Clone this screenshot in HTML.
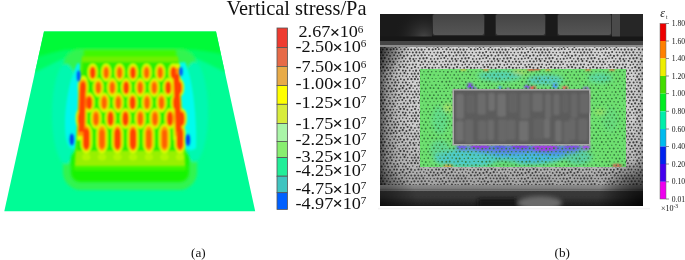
<!DOCTYPE html>
<html><head><meta charset="utf-8"><style>
html,body{margin:0;padding:0;background:#fff;width:685px;height:260px;overflow:hidden}
svg{position:absolute;left:0;top:0;display:block;will-change:transform}
text{font-family:"Liberation Serif",serif;fill:#111}
</style></head><body>
<svg width="685" height="260" viewBox="0 0 685 260">
<defs><filter id="b1" x="-10%" y="-10%" width="120%" height="120%"><feGaussianBlur stdDeviation="0.95"/></filter><filter id="b2" x="-20%" y="-20%" width="140%" height="140%"><feGaussianBlur stdDeviation="1.6"/></filter><filter id="b3" x="-50%" y="-50%" width="200%" height="200%"><feGaussianBlur stdDeviation="2.5"/></filter><clipPath id="pc"><polygon points="44,31.5 216,31.5 255.2,211.3 4.3,211.3"/></clipPath></defs><polygon points="44,31.5 216,31.5 255.2,211.3 4.3,211.3" fill="#00fc96"/><g clip-path="url(#pc)"><g filter="url(#b2)"><path d="M0,20 L260,20 L260,82 C235,80 215,66 195,58 C170,52 90,52 65,58 C45,66 25,80 0,84 Z" fill="#00fc64"/><path d="M0,20 L260,20 L260,60 C235,58 215,52 195,50 C170,49 90,49 65,50 C45,54 25,62 0,66 Z" fill="#02fa38"/><rect x="63" y="49" width="134" height="141" rx="18" fill="#30f450"/><ellipse cx="66" cy="114" rx="14" ry="50" fill="#00f8b0"/><ellipse cx="194" cy="112" rx="14" ry="50" fill="#00f8b0"/></g><g filter="url(#b1)"><path d="M77.5,63 C71,76 65,100 65,126 C65,140 68,149 73,149 C77,149 79,146 79,144 L80,64 Z" fill="#00f6ec"/><path d="M185,62 C193,80 197,118 196,148 C192,152 185,150 182,146 L178.5,63 Z" fill="#00fcee"/></g><g filter="url(#b2)"><rect x="71" y="150" width="118" height="32" rx="9" fill="#12f400"/><path d="M84,50 L176,50 L186,170 L74,170 Z" fill="#40f800"/></g><g filter="url(#b1)"><path d="M82,56.5 L178,56.5 L185,166 L75,166 Z" fill="#70f000"/><path d="M76.2,148 L183.8,148 L184.8,166 L75.2,166 Z" fill="#98f000"/><ellipse cx="86.3" cy="157" rx="4.2" ry="3.6" fill="#b4f600"/><ellipse cx="102" cy="157" rx="4.2" ry="3.6" fill="#b4f600"/><ellipse cx="117.5" cy="157" rx="4.2" ry="3.6" fill="#b4f600"/><ellipse cx="133" cy="157" rx="4.2" ry="3.6" fill="#b4f600"/><ellipse cx="148.8" cy="157" rx="4.2" ry="3.6" fill="#b4f600"/><ellipse cx="164.5" cy="157" rx="4.2" ry="3.6" fill="#b4f600"/><ellipse cx="180" cy="157" rx="4.2" ry="3.6" fill="#b4f600"/><path d="M82.5,62 L177.5,62 L183.5,151 L76.5,151 Z" fill="#2cf000"/><rect x="87.7" y="63.5" width="10" height="18" rx="5" ry="8.5" fill="#dcff00"/><rect x="101.2" y="63.5" width="10" height="18" rx="5" ry="8.5" fill="#dcff00"/><rect x="114.6" y="63.5" width="10" height="18" rx="5" ry="8.5" fill="#dcff00"/><rect x="128" y="63.5" width="10" height="18" rx="5" ry="8.5" fill="#dcff00"/><rect x="141.6" y="63.5" width="10" height="18" rx="5" ry="8.5" fill="#dcff00"/><rect x="155.2" y="63.5" width="10" height="18" rx="5" ry="8.5" fill="#dcff00"/><rect x="168.5" y="63.5" width="10" height="18" rx="5" ry="8.5" fill="#dcff00"/><rect x="77.9" y="78.1" width="10.2" height="18.8" rx="5.1" ry="8.67" fill="#dcff00"/><rect x="93.2" y="78.1" width="10.2" height="18.8" rx="5.1" ry="8.67" fill="#dcff00"/><rect x="107.2" y="78.1" width="10.2" height="18.8" rx="5.1" ry="8.67" fill="#dcff00"/><rect x="121.1" y="78.1" width="10.2" height="18.8" rx="5.1" ry="8.67" fill="#dcff00"/><rect x="135.1" y="78.1" width="10.2" height="18.8" rx="5.1" ry="8.67" fill="#dcff00"/><rect x="149.2" y="78.1" width="10.2" height="18.8" rx="5.1" ry="8.67" fill="#dcff00"/><rect x="163.1" y="78.1" width="10.2" height="18.8" rx="5.1" ry="8.67" fill="#dcff00"/><rect x="173.9" y="78.1" width="10.2" height="18.8" rx="5.1" ry="8.67" fill="#dcff00"/><rect x="84" y="92.7" width="10.4" height="19.6" rx="5.2" ry="8.84" fill="#dcff00"/><rect x="99" y="92.7" width="10.4" height="19.6" rx="5.2" ry="8.84" fill="#dcff00"/><rect x="113.1" y="92.7" width="10.4" height="19.6" rx="5.2" ry="8.84" fill="#dcff00"/><rect x="127.4" y="92.7" width="10.4" height="19.6" rx="5.2" ry="8.84" fill="#dcff00"/><rect x="141.8" y="92.7" width="10.4" height="19.6" rx="5.2" ry="8.84" fill="#dcff00"/><rect x="156.3" y="92.7" width="10.4" height="19.6" rx="5.2" ry="8.84" fill="#dcff00"/><rect x="170.8" y="92.7" width="10.4" height="19.6" rx="5.2" ry="8.84" fill="#dcff00"/><rect x="75.7" y="108.2" width="10.6" height="20.6" rx="5.3" ry="9.01" fill="#dcff00"/><rect x="90.7" y="108.2" width="10.6" height="20.6" rx="5.3" ry="9.01" fill="#dcff00"/><rect x="105.2" y="108.2" width="10.6" height="20.6" rx="5.3" ry="9.01" fill="#dcff00"/><rect x="120.2" y="108.2" width="10.6" height="20.6" rx="5.3" ry="9.01" fill="#dcff00"/><rect x="135" y="108.2" width="10.6" height="20.6" rx="5.3" ry="9.01" fill="#dcff00"/><rect x="149.7" y="108.2" width="10.6" height="20.6" rx="5.3" ry="9.01" fill="#dcff00"/><rect x="164.7" y="108.2" width="10.6" height="20.6" rx="5.3" ry="9.01" fill="#dcff00"/><rect x="176.2" y="108.2" width="10.6" height="20.6" rx="5.3" ry="9.01" fill="#dcff00"/><rect x="80.7" y="123.7" width="11.2" height="29.6" rx="5.6" ry="9.52" fill="#dcff00"/><rect x="96.4" y="123.7" width="11.2" height="29.6" rx="5.6" ry="9.52" fill="#dcff00"/><rect x="111.9" y="123.7" width="11.2" height="29.6" rx="5.6" ry="9.52" fill="#dcff00"/><rect x="127.4" y="123.7" width="11.2" height="29.6" rx="5.6" ry="9.52" fill="#dcff00"/><rect x="143.2" y="123.7" width="11.2" height="29.6" rx="5.6" ry="9.52" fill="#dcff00"/><rect x="158.9" y="123.7" width="11.2" height="29.6" rx="5.6" ry="9.52" fill="#dcff00"/><rect x="174.4" y="123.7" width="11.2" height="29.6" rx="5.6" ry="9.52" fill="#dcff00"/><path d="M78.5,82 C79,74 87.5,74 87.5,82 L86.5,140 L77,140 Z" fill="#d8ff00"/><path d="M171.5,64 L180,64 L182.5,140 L173.5,140 Z" fill="#d8ff00"/><rect x="89.3" y="65.8" width="6.8" height="13.4" rx="3.4" ry="5.78" fill="#ffa000"/><rect x="102.8" y="65.8" width="6.8" height="13.4" rx="3.4" ry="5.78" fill="#ffa000"/><rect x="116.2" y="65.8" width="6.8" height="13.4" rx="3.4" ry="5.78" fill="#ffa000"/><rect x="129.6" y="65.8" width="6.8" height="13.4" rx="3.4" ry="5.78" fill="#ffa000"/><rect x="143.2" y="65.8" width="6.8" height="13.4" rx="3.4" ry="5.78" fill="#ffa000"/><rect x="156.8" y="65.8" width="6.8" height="13.4" rx="3.4" ry="5.78" fill="#ffa000"/><rect x="170.1" y="65.8" width="6.8" height="13.4" rx="3.4" ry="5.78" fill="#ffa000"/><rect x="79.5" y="80.4" width="7" height="14.2" rx="3.5" ry="5.95" fill="#ffa000"/><rect x="94.8" y="80.4" width="7" height="14.2" rx="3.5" ry="5.95" fill="#ffa000"/><rect x="108.8" y="80.4" width="7" height="14.2" rx="3.5" ry="5.95" fill="#ffa000"/><rect x="122.7" y="80.4" width="7" height="14.2" rx="3.5" ry="5.95" fill="#ffa000"/><rect x="136.7" y="80.4" width="7" height="14.2" rx="3.5" ry="5.95" fill="#ffa000"/><rect x="150.8" y="80.4" width="7" height="14.2" rx="3.5" ry="5.95" fill="#ffa000"/><rect x="164.7" y="80.4" width="7" height="14.2" rx="3.5" ry="5.95" fill="#ffa000"/><rect x="175.5" y="80.4" width="7" height="14.2" rx="3.5" ry="5.95" fill="#ffa000"/><rect x="85.6" y="95" width="7.2" height="15" rx="3.6" ry="6.12" fill="#ffa000"/><rect x="100.6" y="95" width="7.2" height="15" rx="3.6" ry="6.12" fill="#ffa000"/><rect x="114.7" y="95" width="7.2" height="15" rx="3.6" ry="6.12" fill="#ffa000"/><rect x="129" y="95" width="7.2" height="15" rx="3.6" ry="6.12" fill="#ffa000"/><rect x="143.4" y="95" width="7.2" height="15" rx="3.6" ry="6.12" fill="#ffa000"/><rect x="157.9" y="95" width="7.2" height="15" rx="3.6" ry="6.12" fill="#ffa000"/><rect x="172.4" y="95" width="7.2" height="15" rx="3.6" ry="6.12" fill="#ffa000"/><rect x="77.3" y="110.5" width="7.4" height="16" rx="3.7" ry="6.29" fill="#ffa000"/><rect x="92.3" y="110.5" width="7.4" height="16" rx="3.7" ry="6.29" fill="#ffa000"/><rect x="106.8" y="110.5" width="7.4" height="16" rx="3.7" ry="6.29" fill="#ffa000"/><rect x="121.8" y="110.5" width="7.4" height="16" rx="3.7" ry="6.29" fill="#ffa000"/><rect x="136.6" y="110.5" width="7.4" height="16" rx="3.7" ry="6.29" fill="#ffa000"/><rect x="151.3" y="110.5" width="7.4" height="16" rx="3.7" ry="6.29" fill="#ffa000"/><rect x="166.3" y="110.5" width="7.4" height="16" rx="3.7" ry="6.29" fill="#ffa000"/><rect x="177.8" y="110.5" width="7.4" height="16" rx="3.7" ry="6.29" fill="#ffa000"/><rect x="82.3" y="126" width="8" height="25" rx="4" ry="6.8" fill="#ffa000"/><rect x="98" y="126" width="8" height="25" rx="4" ry="6.8" fill="#ffa000"/><rect x="113.5" y="126" width="8" height="25" rx="4" ry="6.8" fill="#ffa000"/><rect x="129" y="126" width="8" height="25" rx="4" ry="6.8" fill="#ffa000"/><rect x="144.8" y="126" width="8" height="25" rx="4" ry="6.8" fill="#ffa000"/><rect x="160.5" y="126" width="8" height="25" rx="4" ry="6.8" fill="#ffa000"/><rect x="176" y="126" width="8" height="25" rx="4" ry="6.8" fill="#ffa000"/><path d="M79,84 C79.5,78 86.5,78 86.5,84 L85.5,136 L77.5,136 Z" fill="#ff9800"/><path d="M172.5,68 L179.5,68 L182,136 L175,136 Z" fill="#ff9800"/><rect x="89.98" y="67.14" width="5.44" height="11.52" rx="2.72" ry="4.62" fill="#ff4000"/><rect x="103.96" y="67.81" width="4.49" height="10.18" rx="2.24" ry="3.81" fill="#ff6000"/><rect x="117.36" y="67.81" width="4.49" height="10.18" rx="2.24" ry="3.81" fill="#ff6000"/><rect x="130.28" y="67.14" width="5.44" height="11.52" rx="2.72" ry="4.62" fill="#ff4000"/><rect x="144.36" y="67.81" width="4.49" height="10.18" rx="2.24" ry="3.81" fill="#ff6000"/><rect x="157.96" y="67.81" width="4.49" height="10.18" rx="2.24" ry="3.81" fill="#ff6000"/><rect x="170.78" y="67.14" width="5.44" height="11.52" rx="2.72" ry="4.62" fill="#ff4000"/><rect x="80.2" y="81.79" width="5.6" height="12.21" rx="2.8" ry="4.76" fill="#ff4000"/><rect x="95.99" y="82.5" width="4.62" height="10.79" rx="2.31" ry="3.93" fill="#ff6000"/><rect x="109.99" y="82.5" width="4.62" height="10.79" rx="2.31" ry="3.93" fill="#ff6000"/><rect x="123.4" y="81.79" width="5.6" height="12.21" rx="2.8" ry="4.76" fill="#ff4000"/><rect x="137.89" y="82.5" width="4.62" height="10.79" rx="2.31" ry="3.93" fill="#ff6000"/><rect x="151.99" y="82.5" width="4.62" height="10.79" rx="2.31" ry="3.93" fill="#ff6000"/><rect x="165.4" y="81.79" width="5.6" height="12.21" rx="2.8" ry="4.76" fill="#ff4000"/><rect x="176.2" y="81.79" width="5.6" height="12.21" rx="2.8" ry="4.76" fill="#ff4000"/><rect x="86.32" y="96.45" width="5.76" height="12.9" rx="2.88" ry="4.9" fill="#ff4000"/><rect x="101.82" y="97.2" width="4.75" height="11.4" rx="2.38" ry="4.04" fill="#ff6000"/><rect x="115.92" y="97.2" width="4.75" height="11.4" rx="2.38" ry="4.04" fill="#ff6000"/><rect x="129.72" y="96.45" width="5.76" height="12.9" rx="2.88" ry="4.9" fill="#ff4000"/><rect x="144.62" y="97.2" width="4.75" height="11.4" rx="2.38" ry="4.04" fill="#ff6000"/><rect x="159.12" y="97.2" width="4.75" height="11.4" rx="2.38" ry="4.04" fill="#ff6000"/><rect x="173.12" y="96.45" width="5.76" height="12.9" rx="2.88" ry="4.9" fill="#ff4000"/><rect x="78.04" y="112.02" width="5.92" height="13.76" rx="2.96" ry="5.03" fill="#ff4000"/><rect x="93.56" y="112.82" width="4.88" height="12.16" rx="2.44" ry="4.15" fill="#ff6000"/><rect x="107.54" y="112.02" width="5.92" height="13.76" rx="2.96" ry="5.03" fill="#ff4000"/><rect x="122.54" y="112.02" width="5.92" height="13.76" rx="2.96" ry="5.03" fill="#ff4000"/><rect x="137.86" y="112.82" width="4.88" height="12.16" rx="2.44" ry="4.15" fill="#ff6000"/><rect x="152.56" y="112.82" width="4.88" height="12.16" rx="2.44" ry="4.15" fill="#ff6000"/><rect x="167.04" y="112.02" width="5.92" height="13.76" rx="2.96" ry="5.03" fill="#ff4000"/><rect x="178.54" y="112.02" width="5.92" height="13.76" rx="2.96" ry="5.03" fill="#ff4000"/><rect x="83.1" y="128.15" width="6.4" height="21.5" rx="3.2" ry="5.44" fill="#ff4000"/><rect x="99.36" y="129.4" width="5.28" height="19" rx="2.64" ry="4.49" fill="#ff6000"/><rect x="114.3" y="128.15" width="6.4" height="21.5" rx="3.2" ry="5.44" fill="#ff4000"/><rect x="129.8" y="128.15" width="6.4" height="21.5" rx="3.2" ry="5.44" fill="#ff4000"/><rect x="146.16" y="129.4" width="5.28" height="19" rx="2.64" ry="4.49" fill="#ff6000"/><rect x="161.86" y="129.4" width="5.28" height="19" rx="2.64" ry="4.49" fill="#ff6000"/><rect x="176.8" y="128.15" width="6.4" height="21.5" rx="3.2" ry="5.44" fill="#ff4000"/><path d="M79.8,88 C80,83 85.5,83 85.5,88 L84.5,132 L78.5,132 Z" fill="#ff4000"/><path d="M173.5,74 L179,74 L181.5,132 L176,132 Z" fill="#ff4000"/></g><g filter="url(#b1)"><ellipse cx="78.6" cy="76" rx="1.8" ry="5.5" fill="#0050ff"/><ellipse cx="181" cy="71.5" rx="1.7" ry="4.5" fill="#0050ff"/><ellipse cx="71.8" cy="139.5" rx="2.2" ry="6" fill="#0040f0"/><ellipse cx="188" cy="140" rx="2.2" ry="6" fill="#0040f0"/></g></g>
<defs><pattern id="sp" width="42" height="42" patternUnits="userSpaceOnUse"><g fill="#404040"><circle cx="1.5" cy="1.5" r="0.9"/><circle cx="1.5" cy="43.5" r="0.9"/><circle cx="43.5" cy="1.5" r="0.9"/><circle cx="43.5" cy="43.5" r="0.9"/><circle cx="5.3" cy="1.6" r="0.8"/><circle cx="5.3" cy="43.6" r="0.8"/><circle cx="8.3" cy="1.8" r="0.9"/><circle cx="8.3" cy="43.8" r="0.9"/><circle cx="12" cy="1.9" r="0.9"/><circle cx="12" cy="43.9" r="0.9"/><circle cx="16.1" cy="1.5" r="1"/><circle cx="16.1" cy="43.5" r="1"/><circle cx="18.9" cy="1.6" r="1.1"/><circle cx="18.9" cy="43.6" r="1.1"/><circle cx="22.8" cy="1.7" r="1"/><circle cx="22.8" cy="43.7" r="1"/><circle cx="25.9" cy="1.7" r="1"/><circle cx="25.9" cy="43.7" r="1"/><circle cx="29.6" cy="1.1" r="1.1"/><circle cx="29.6" cy="43.1" r="1.1"/><circle cx="33.2" cy="1.7" r="1.1"/><circle cx="33.2" cy="43.7" r="1.1"/><circle cx="36.9" cy="1.9" r="0.9"/><circle cx="36.9" cy="43.9" r="0.9"/><circle cx="-1.5" cy="1.5" r="1.1"/><circle cx="-1.5" cy="43.5" r="1.1"/><circle cx="40.5" cy="1.5" r="1.1"/><circle cx="40.5" cy="43.5" r="1.1"/><circle cx="3.8" cy="4.1" r="0.8"/><circle cx="6.7" cy="4.9" r="0.9"/><circle cx="10.6" cy="4.3" r="1"/><circle cx="13.9" cy="4.4" r="1"/><circle cx="17.6" cy="4.9" r="1"/><circle cx="21.4" cy="4.8" r="1.1"/><circle cx="24.7" cy="4.2" r="1.1"/><circle cx="28.4" cy="4.9" r="1"/><circle cx="31.7" cy="4.2" r="1.1"/><circle cx="35.1" cy="4.3" r="0.8"/><circle cx="38.8" cy="4.9" r="0.8"/><circle cx="0.3" cy="4.4" r="0.8"/><circle cx="42.3" cy="4.4" r="0.8"/><circle cx="1.6" cy="7.7" r="1.1"/><circle cx="43.6" cy="7.7" r="1.1"/><circle cx="4.8" cy="7.6" r="0.8"/><circle cx="8.9" cy="7.3" r="1.1"/><circle cx="12.7" cy="7.5" r="1.1"/><circle cx="15.6" cy="7.1" r="1"/><circle cx="18.8" cy="7.2" r="0.9"/><circle cx="22.8" cy="7.2" r="0.8"/><circle cx="26.6" cy="7.3" r="1.1"/><circle cx="30.1" cy="7.4" r="0.9"/><circle cx="33.3" cy="7.6" r="1"/><circle cx="36.8" cy="7.6" r="1.1"/><circle cx="-1.7" cy="7.4" r="1"/><circle cx="40.3" cy="7.4" r="1"/><circle cx="3.3" cy="10.3" r="1.1"/><circle cx="7" cy="10.5" r="0.8"/><circle cx="10.4" cy="10.6" r="0.8"/><circle cx="14.1" cy="10.6" r="0.8"/><circle cx="17.6" cy="10.5" r="1"/><circle cx="20.9" cy="10.7" r="1"/><circle cx="24.1" cy="10.1" r="1"/><circle cx="28.4" cy="10.3" r="0.9"/><circle cx="31.6" cy="10.3" r="0.9"/><circle cx="34.8" cy="10.4" r="1"/><circle cx="38.3" cy="10.4" r="1.1"/><circle cx="-0.4" cy="10.6" r="1"/><circle cx="41.6" cy="10.6" r="1"/><circle cx="1.6" cy="13.3" r="1.1"/><circle cx="43.6" cy="13.3" r="1.1"/><circle cx="5" cy="13.2" r="0.9"/><circle cx="8.9" cy="13.1" r="0.9"/><circle cx="12.1" cy="13.8" r="0.9"/><circle cx="16.1" cy="13.2" r="0.9"/><circle cx="19.4" cy="13.8" r="0.9"/><circle cx="22.5" cy="13.2" r="1"/><circle cx="26" cy="13.8" r="1.1"/><circle cx="29.5" cy="13.3" r="1.1"/><circle cx="33.4" cy="13.8" r="0.9"/><circle cx="36.4" cy="13.3" r="1.1"/><circle cx="-2" cy="13.4" r="0.9"/><circle cx="40" cy="13.4" r="0.9"/><circle cx="3.4" cy="16.4" r="1.1"/><circle cx="6.7" cy="16.1" r="1.1"/><circle cx="10.8" cy="16.9" r="0.9"/><circle cx="14.4" cy="16.9" r="0.8"/><circle cx="17.7" cy="16.8" r="1"/><circle cx="21" cy="16.3" r="0.9"/><circle cx="24.3" cy="16.1" r="1"/><circle cx="27.8" cy="16.8" r="0.8"/><circle cx="31.9" cy="16.7" r="1.1"/><circle cx="35.4" cy="16.9" r="1"/><circle cx="38.1" cy="16.7" r="0.8"/><circle cx="-0.2" cy="16.6" r="1"/><circle cx="41.8" cy="16.6" r="1"/><circle cx="1.7" cy="19.9" r="1"/><circle cx="43.7" cy="19.9" r="1"/><circle cx="5.1" cy="19.3" r="1.1"/><circle cx="8.7" cy="19.8" r="0.9"/><circle cx="12" cy="19.5" r="1.1"/><circle cx="15.5" cy="19.8" r="1.1"/><circle cx="19.5" cy="19.8" r="0.8"/><circle cx="22.9" cy="19.8" r="0.8"/><circle cx="26" cy="19.3" r="1"/><circle cx="29.7" cy="19.5" r="1.1"/><circle cx="32.8" cy="19.1" r="0.8"/><circle cx="36.4" cy="19.1" r="1.1"/><circle cx="-1.4" cy="19.1" r="1"/><circle cx="40.6" cy="19.1" r="1"/><circle cx="3.3" cy="22.3" r="0.9"/><circle cx="7.1" cy="22.6" r="0.9"/><circle cx="10.2" cy="22.3" r="0.8"/><circle cx="14" cy="22.7" r="0.9"/><circle cx="17.1" cy="22.2" r="0.9"/><circle cx="21.1" cy="22.8" r="0.9"/><circle cx="24.8" cy="22.6" r="0.9"/><circle cx="27.9" cy="22.5" r="1"/><circle cx="31.4" cy="22.7" r="0.9"/><circle cx="34.8" cy="22.5" r="1"/><circle cx="38.1" cy="22.4" r="0.9"/><circle cx="0.3" cy="22.9" r="0.9"/><circle cx="42.3" cy="22.9" r="0.9"/><circle cx="2.1" cy="25.8" r="0.9"/><circle cx="5.2" cy="25.2" r="1.1"/><circle cx="8.9" cy="25.8" r="1.1"/><circle cx="12.4" cy="25.7" r="1"/><circle cx="15.4" cy="25.6" r="0.8"/><circle cx="18.9" cy="25.7" r="0.8"/><circle cx="22.4" cy="25.1" r="1.1"/><circle cx="26" cy="25.1" r="1.1"/><circle cx="29.4" cy="25.8" r="1"/><circle cx="33.6" cy="25.9" r="1"/><circle cx="37" cy="25.1" r="1.1"/><circle cx="-1.7" cy="25.7" r="0.8"/><circle cx="40.3" cy="25.7" r="0.8"/><circle cx="3.7" cy="28.9" r="0.8"/><circle cx="6.8" cy="28.6" r="1.1"/><circle cx="10.3" cy="28.2" r="0.9"/><circle cx="14.1" cy="28.7" r="0.9"/><circle cx="17.4" cy="28.4" r="0.9"/><circle cx="20.9" cy="28.1" r="1"/><circle cx="24.9" cy="28.4" r="1"/><circle cx="27.7" cy="28.7" r="1"/><circle cx="31.7" cy="28.5" r="0.9"/><circle cx="35.1" cy="28.9" r="0.8"/><circle cx="38.1" cy="28.7" r="1.1"/><circle cx="0" cy="28.4" r="1"/><circle cx="42" cy="28.4" r="1"/><circle cx="1.5" cy="31.3" r="0.8"/><circle cx="43.5" cy="31.3" r="0.8"/><circle cx="5.3" cy="31.3" r="0.8"/><circle cx="8.9" cy="31.9" r="0.9"/><circle cx="12.4" cy="31.4" r="1.1"/><circle cx="15.8" cy="31.3" r="0.8"/><circle cx="18.8" cy="31.5" r="0.9"/><circle cx="22.5" cy="31.4" r="0.9"/><circle cx="26.5" cy="31.2" r="1.1"/><circle cx="29.7" cy="31.6" r="0.9"/><circle cx="33.6" cy="31.8" r="1"/><circle cx="36.7" cy="31.7" r="1.1"/><circle cx="-1.8" cy="31.7" r="1.1"/><circle cx="40.2" cy="31.7" r="1.1"/><circle cx="3.5" cy="34.3" r="0.8"/><circle cx="7.2" cy="34.7" r="1.1"/><circle cx="10.8" cy="34.3" r="0.8"/><circle cx="13.8" cy="34.2" r="1"/><circle cx="17.8" cy="34.9" r="0.9"/><circle cx="21.3" cy="34.3" r="0.9"/><circle cx="24.7" cy="34.1" r="0.8"/><circle cx="28.3" cy="34.3" r="0.9"/><circle cx="31.6" cy="34.7" r="0.8"/><circle cx="34.9" cy="34.4" r="0.9"/><circle cx="38.2" cy="34.6" r="1.1"/><circle cx="-0.1" cy="34.5" r="0.8"/><circle cx="41.9" cy="34.5" r="0.8"/><circle cx="1.5" cy="37.6" r="0.8"/><circle cx="43.5" cy="37.6" r="0.8"/><circle cx="5.6" cy="37.9" r="0.8"/><circle cx="9.1" cy="37.4" r="1.1"/><circle cx="12.5" cy="37.3" r="1"/><circle cx="15.9" cy="37.8" r="0.9"/><circle cx="19.5" cy="37.9" r="1"/><circle cx="22.8" cy="37.2" r="0.9"/><circle cx="26.1" cy="37.7" r="1"/><circle cx="29.8" cy="37.2" r="1"/><circle cx="33.4" cy="37.2" r="1.1"/><circle cx="36.9" cy="37.2" r="1.1"/><circle cx="39.9" cy="37.3" r="1"/><circle cx="3.6" cy="-1.5" r="1"/><circle cx="3.6" cy="40.5" r="1"/><circle cx="7" cy="-1.7" r="0.8"/><circle cx="7" cy="40.3" r="0.8"/><circle cx="10.1" cy="-1.3" r="1"/><circle cx="10.1" cy="40.7" r="1"/><circle cx="14" cy="-1.3" r="0.9"/><circle cx="14" cy="40.7" r="0.9"/><circle cx="17.3" cy="-1.6" r="1.1"/><circle cx="17.3" cy="40.4" r="1.1"/><circle cx="20.6" cy="-1.5" r="0.9"/><circle cx="20.6" cy="40.5" r="0.9"/><circle cx="24.7" cy="-1.6" r="0.9"/><circle cx="24.7" cy="40.4" r="0.9"/><circle cx="27.9" cy="-1.5" r="1.1"/><circle cx="27.9" cy="40.5" r="1.1"/><circle cx="31.4" cy="-1.2" r="0.8"/><circle cx="31.4" cy="40.8" r="0.8"/><circle cx="34.8" cy="-1.9" r="0.8"/><circle cx="34.8" cy="40.1" r="0.8"/><circle cx="38.8" cy="-1.3" r="0.8"/><circle cx="38.8" cy="40.7" r="0.8"/><circle cx="-0.3" cy="-1.6" r="1"/><circle cx="-0.3" cy="40.4" r="1"/><circle cx="41.7" cy="-1.6" r="1"/><circle cx="41.7" cy="40.4" r="1"/></g></pattern><pattern id="sp2" width="40" height="40" patternUnits="userSpaceOnUse"><g fill="#367c3c"><circle cx="2.1" cy="1.8" r="1"/><circle cx="2.1" cy="41.8" r="1"/><circle cx="6.3" cy="1.8" r="1"/><circle cx="6.3" cy="41.8" r="1"/><circle cx="9.7" cy="1.6" r="1"/><circle cx="9.7" cy="41.6" r="1"/><circle cx="14.1" cy="1.9" r="0.7"/><circle cx="14.1" cy="41.9" r="0.7"/><circle cx="18" cy="1.5" r="0.9"/><circle cx="18" cy="41.5" r="0.9"/><circle cx="22.1" cy="1.3" r="0.8"/><circle cx="22.1" cy="41.3" r="0.8"/><circle cx="25.8" cy="2" r="0.9"/><circle cx="25.8" cy="42" r="0.9"/><circle cx="29.8" cy="1.9" r="0.7"/><circle cx="29.8" cy="41.9" r="0.7"/><circle cx="34.1" cy="1.4" r="0.7"/><circle cx="34.1" cy="41.4" r="0.7"/><circle cx="-1.7" cy="1.5" r="0.8"/><circle cx="-1.7" cy="41.5" r="0.8"/><circle cx="38.3" cy="1.5" r="0.8"/><circle cx="38.3" cy="41.5" r="0.8"/><circle cx="4.3" cy="5.3" r="0.8"/><circle cx="8.3" cy="5" r="0.9"/><circle cx="11.8" cy="5.3" r="0.9"/><circle cx="16.3" cy="5.3" r="0.8"/><circle cx="19.9" cy="4.8" r="0.7"/><circle cx="23.7" cy="4.9" r="0.9"/><circle cx="27.7" cy="5.1" r="0.8"/><circle cx="31.9" cy="5.2" r="0.8"/><circle cx="35.9" cy="5" r="0.9"/><circle cx="-0.3" cy="5.3" r="0.7"/><circle cx="39.7" cy="5.3" r="0.7"/><circle cx="2.2" cy="8.6" r="0.7"/><circle cx="6.2" cy="8.2" r="0.9"/><circle cx="9.7" cy="8" r="0.7"/><circle cx="14.3" cy="8.1" r="0.9"/><circle cx="18.3" cy="8.6" r="0.8"/><circle cx="21.9" cy="8.4" r="0.9"/><circle cx="25.7" cy="8.5" r="1"/><circle cx="30.3" cy="8" r="1"/><circle cx="33.7" cy="8.2" r="0.9"/><circle cx="-1.7" cy="8.2" r="1"/><circle cx="38.3" cy="8.2" r="1"/><circle cx="4" cy="11.5" r="0.8"/><circle cx="7.8" cy="11.4" r="0.7"/><circle cx="12.1" cy="12" r="0.7"/><circle cx="15.7" cy="12" r="0.9"/><circle cx="19.9" cy="11.5" r="0.9"/><circle cx="24.2" cy="11.6" r="0.8"/><circle cx="27.7" cy="12" r="0.7"/><circle cx="32" cy="11.9" r="0.7"/><circle cx="36.2" cy="12" r="0.9"/><circle cx="0.2" cy="11.4" r="0.8"/><circle cx="40.2" cy="11.4" r="0.8"/><circle cx="1.8" cy="15.2" r="0.8"/><circle cx="41.8" cy="15.2" r="0.8"/><circle cx="6" cy="15.3" r="1"/><circle cx="10.3" cy="15" r="0.8"/><circle cx="14.2" cy="15" r="0.8"/><circle cx="17.9" cy="14.8" r="0.8"/><circle cx="22.3" cy="15.3" r="0.9"/><circle cx="26" cy="14.9" r="0.7"/><circle cx="29.8" cy="15.2" r="1"/><circle cx="33.9" cy="15.2" r="0.9"/><circle cx="-1.9" cy="15.1" r="0.9"/><circle cx="38.1" cy="15.1" r="0.9"/><circle cx="3.9" cy="18.5" r="0.8"/><circle cx="8" cy="18.5" r="0.9"/><circle cx="11.9" cy="18.6" r="0.9"/><circle cx="16.1" cy="18" r="0.9"/><circle cx="19.8" cy="18.5" r="0.8"/><circle cx="24.2" cy="18.4" r="1"/><circle cx="27.9" cy="18.4" r="0.9"/><circle cx="32.2" cy="18.2" r="1"/><circle cx="36.3" cy="18.5" r="1"/><circle cx="0.3" cy="18.3" r="0.9"/><circle cx="40.3" cy="18.3" r="0.9"/><circle cx="1.8" cy="21.9" r="1"/><circle cx="41.8" cy="21.9" r="1"/><circle cx="6" cy="21.8" r="0.9"/><circle cx="10.2" cy="21.4" r="0.9"/><circle cx="14.1" cy="21.8" r="0.8"/><circle cx="18.1" cy="21.9" r="0.9"/><circle cx="22.2" cy="21.3" r="0.7"/><circle cx="26" cy="21.8" r="0.8"/><circle cx="30.1" cy="21.8" r="0.7"/><circle cx="34" cy="21.5" r="0.7"/><circle cx="37.7" cy="21.5" r="0.7"/><circle cx="3.8" cy="24.7" r="0.8"/><circle cx="7.9" cy="25.1" r="0.9"/><circle cx="11.8" cy="25.3" r="0.7"/><circle cx="15.9" cy="24.8" r="0.8"/><circle cx="19.7" cy="25.2" r="0.8"/><circle cx="23.7" cy="25.1" r="0.7"/><circle cx="28" cy="24.9" r="0.9"/><circle cx="32.3" cy="25.2" r="0.8"/><circle cx="36.2" cy="25.1" r="0.8"/><circle cx="-0.3" cy="25.1" r="0.9"/><circle cx="39.7" cy="25.1" r="0.9"/><circle cx="2.3" cy="28.7" r="0.9"/><circle cx="5.9" cy="28.6" r="0.7"/><circle cx="9.7" cy="28.4" r="0.9"/><circle cx="13.7" cy="28.4" r="1"/><circle cx="17.9" cy="28.3" r="0.8"/><circle cx="21.9" cy="28.7" r="0.8"/><circle cx="26.3" cy="28.6" r="0.9"/><circle cx="29.8" cy="28.7" r="0.8"/><circle cx="33.9" cy="28.2" r="1"/><circle cx="38" cy="28.2" r="0.8"/><circle cx="3.7" cy="31.8" r="0.8"/><circle cx="7.9" cy="31.9" r="1"/><circle cx="11.7" cy="31.7" r="0.8"/><circle cx="16.3" cy="31.9" r="0.8"/><circle cx="19.8" cy="31.4" r="1"/><circle cx="23.9" cy="31.7" r="0.8"/><circle cx="28.1" cy="31.7" r="0.9"/><circle cx="31.7" cy="31.8" r="0.8"/><circle cx="36" cy="31.6" r="0.8"/><circle cx="0" cy="31.6" r="0.8"/><circle cx="40" cy="31.6" r="0.8"/><circle cx="2.2" cy="35.1" r="0.7"/><circle cx="5.8" cy="35" r="1"/><circle cx="10.3" cy="35" r="0.7"/><circle cx="14.2" cy="34.9" r="0.9"/><circle cx="18.1" cy="35.1" r="0.8"/><circle cx="22.3" cy="34.9" r="0.8"/><circle cx="26.2" cy="34.8" r="0.8"/><circle cx="30.2" cy="34.7" r="1"/><circle cx="34.1" cy="35" r="0.8"/><circle cx="-1.8" cy="35.3" r="0.7"/><circle cx="38.2" cy="35.3" r="0.7"/><circle cx="4" cy="-1.6" r="0.8"/><circle cx="4" cy="38.4" r="0.8"/><circle cx="7.9" cy="-1.9" r="0.9"/><circle cx="7.9" cy="38.1" r="0.9"/><circle cx="12.2" cy="-2" r="0.8"/><circle cx="12.2" cy="38" r="0.8"/><circle cx="16.2" cy="-1.5" r="0.9"/><circle cx="16.2" cy="38.5" r="0.9"/><circle cx="19.7" cy="-1.5" r="1"/><circle cx="19.7" cy="38.5" r="1"/><circle cx="24.3" cy="-1.5" r="0.7"/><circle cx="24.3" cy="38.5" r="0.7"/><circle cx="28.2" cy="-1.9" r="0.9"/><circle cx="28.2" cy="38.1" r="0.9"/><circle cx="32.3" cy="-1.5" r="0.7"/><circle cx="32.3" cy="38.5" r="0.7"/><circle cx="35.9" cy="-1.4" r="0.7"/><circle cx="35.9" cy="38.6" r="0.7"/><circle cx="0.1" cy="-1.7" r="0.7"/><circle cx="0.1" cy="38.3" r="0.7"/><circle cx="40.1" cy="-1.7" r="0.7"/><circle cx="40.1" cy="38.3" r="0.7"/></g></pattern><linearGradient id="spv" x1="0" y1="46" x2="0" y2="186" gradientUnits="userSpaceOnUse"><stop offset="0" stop-color="#d4d4d4"/><stop offset="0.55" stop-color="#cccccc"/><stop offset="0.85" stop-color="#b8b8b8"/><stop offset="1" stop-color="#a0a0a0"/></linearGradient><linearGradient id="vig" x1="380" y1="0" x2="643" y2="0" gradientUnits="userSpaceOnUse"><stop offset="0" stop-color="#000" stop-opacity="0.6"/><stop offset="0.025" stop-color="#000" stop-opacity="0.3"/><stop offset="0.07" stop-color="#000" stop-opacity="0.08"/><stop offset="0.12" stop-color="#000" stop-opacity="0"/><stop offset="0.8" stop-color="#000" stop-opacity="0"/><stop offset="0.96" stop-color="#000" stop-opacity="0"/><stop offset="1" stop-color="#000" stop-opacity="0.12"/></linearGradient><linearGradient id="topg" x1="0" y1="14" x2="0" y2="38" gradientUnits="userSpaceOnUse"><stop offset="0" stop-color="#1e1e1e"/><stop offset="1" stop-color="#3e3e3e"/></linearGradient><radialGradient id="brc" cx="645" cy="205" r="48" gradientUnits="userSpaceOnUse"><stop offset="0" stop-color="#000" stop-opacity="0.9"/><stop offset="0.6" stop-color="#000" stop-opacity="0.4"/><stop offset="1" stop-color="#000" stop-opacity="0"/></radialGradient><linearGradient id="bandg" x1="0" y1="185" x2="0" y2="190.5" gradientUnits="userSpaceOnUse"><stop offset="0" stop-color="#8c8c8c"/><stop offset="0.6" stop-color="#7e7e7e"/><stop offset="1" stop-color="#585858"/></linearGradient><linearGradient id="botg" x1="0" y1="190.5" x2="0" y2="206" gradientUnits="userSpaceOnUse"><stop offset="0" stop-color="#3a3a3a"/><stop offset="0.4" stop-color="#363636"/><stop offset="1" stop-color="#1e1e1e"/></linearGradient><radialGradient id="tlg" cx="424" cy="38" r="30" gradientUnits="userSpaceOnUse"><stop offset="0" stop-color="#484848"/><stop offset="1" stop-color="#1c1c1c" stop-opacity="0"/></radialGradient><linearGradient id="pang" x1="0" y1="14" x2="0" y2="36" gradientUnits="userSpaceOnUse"><stop offset="0" stop-color="#444"/><stop offset="1" stop-color="#565656"/></linearGradient><radialGradient id="tlc" cx="380" cy="47" r="30" gradientUnits="userSpaceOnUse"><stop offset="0" stop-color="#000" stop-opacity="0.55"/><stop offset="1" stop-color="#000" stop-opacity="0"/></radialGradient><radialGradient id="blc" cx="378" cy="205" r="40" gradientUnits="userSpaceOnUse"><stop offset="0" stop-color="#000" stop-opacity="0.6"/><stop offset="1" stop-color="#000" stop-opacity="0"/></radialGradient><filter id="pb" x="-5%" y="-5%" width="110%" height="110%"><feGaussianBlur stdDeviation="0.6"/></filter><filter id="pbd" x="0" y="0" width="100%" height="100%"><feGaussianBlur stdDeviation="0.6"/></filter><filter id="pb2" x="-30%" y="-30%" width="160%" height="160%"><feGaussianBlur stdDeviation="2"/></filter><filter id="pb1" x="-30%" y="-30%" width="160%" height="160%"><feGaussianBlur stdDeviation="1"/></filter><clipPath id="phc"><rect x="380" y="14" width="263" height="192"/></clipPath><clipPath id="ovc"><rect x="420" y="69" width="206" height="98"/></clipPath></defs><g clip-path="url(#phc)"><rect x="380" y="14" width="263" height="34" fill="#1a1a1a"/><rect x="380" y="14" width="52" height="23" fill="url(#tlg)"/><rect x="432" y="14" width="53" height="22" rx="2" fill="#2a2a2a"/><rect x="433" y="14" width="51" height="21" rx="2" fill="url(#pang)"/><rect x="495" y="14" width="51" height="22" rx="2" fill="#2a2a2a"/><rect x="496" y="14" width="49" height="21" rx="2" fill="url(#pang)"/><rect x="557" y="14" width="55" height="22" rx="2" fill="#2a2a2a"/><rect x="558" y="14" width="53" height="21" rx="2" fill="url(#pang)"/><rect x="612" y="14" width="8" height="23" fill="#4a4a4a"/><rect x="620" y="14" width="23" height="23" fill="#262626"/><rect x="380" y="36.5" width="263" height="4.5" fill="#171717"/><rect x="380" y="41" width="263" height="4" fill="#464646"/><rect x="380" y="45" width="263" height="2" fill="#8c8c8c"/><rect x="380" y="47" width="263" height="138" fill="url(#spv)"/><rect x="380" y="47" width="263" height="138" fill="url(#sp)" filter="url(#pbd)"/><g clip-path="url(#ovc)"><rect x="420" y="69" width="206" height="98" fill="#6ee070"/><g filter="url(#pb2)"><ellipse cx="500" cy="76" rx="22" ry="5" fill="#50d0c0" opacity="0.8"/><ellipse cx="545" cy="80" rx="18" ry="5" fill="#50c8d0" opacity="0.8"/><ellipse cx="600" cy="78" rx="12" ry="5" fill="#50d0c0" opacity="0.6"/><ellipse cx="440" cy="120" rx="8" ry="14" fill="#58d8a0" opacity="0.5"/><ellipse cx="610" cy="120" rx="8" ry="12" fill="#60d890" opacity="0.4"/><ellipse cx="468" cy="158" rx="34" ry="9" fill="#48c8d8" opacity="0.85"/><ellipse cx="530" cy="155" rx="36" ry="9" fill="#44b8e4" opacity="0.95"/><ellipse cx="578" cy="157" rx="14" ry="7" fill="#48c0d8" opacity="0.5"/><ellipse cx="505" cy="163" rx="14" ry="4" fill="#60d870" opacity="0.7"/><ellipse cx="440" cy="150" rx="10" ry="10" fill="#58d0b0" opacity="0.5"/><ellipse cx="505" cy="150" rx="30" ry="5" fill="#5090e8" opacity="0.8"/><ellipse cx="555" cy="150" rx="25" ry="5" fill="#5080e8" opacity="0.8"/><ellipse cx="522" cy="148" rx="68" ry="4" fill="#6070e0" opacity="0.9"/><ellipse cx="448" cy="108" rx="5" ry="4" fill="#c8e060" opacity="0.6"/><ellipse cx="520" cy="72" rx="8" ry="2.5" fill="#e0d050" opacity="0.5"/><ellipse cx="600" cy="112" rx="6" ry="3" fill="#c0e060" opacity="0.5"/></g><g filter="url(#pb1)"><ellipse cx="480" cy="146.5" rx="10" ry="2.8" fill="#9040e0"/><ellipse cx="500" cy="147" rx="6" ry="2.5" fill="#6060e0"/><ellipse cx="520" cy="146.5" rx="9" ry="2.5" fill="#8040e0"/><ellipse cx="545" cy="147.5" rx="13" ry="3.2" fill="#a040e0"/><ellipse cx="572" cy="146.5" rx="8" ry="2.5" fill="#8050e0"/><ellipse cx="462" cy="147" rx="5" ry="2.5" fill="#7060e0"/><ellipse cx="586" cy="147" rx="4" ry="2.5" fill="#a050e0"/><ellipse cx="536" cy="68.5" rx="5" ry="1.5" fill="#e04040"/><ellipse cx="533" cy="88" rx="3" ry="2" fill="#f05050"/><ellipse cx="565" cy="88" rx="3" ry="2" fill="#f06060"/><ellipse cx="527" cy="87" rx="3" ry="2" fill="#8050e0"/><ellipse cx="586" cy="89" rx="3" ry="2" fill="#9050e0"/><ellipse cx="474" cy="89" rx="3" ry="2" fill="#8060e0"/><ellipse cx="455" cy="94" rx="1.5" ry="3" fill="#e06060"/><ellipse cx="588" cy="96" rx="1.5" ry="3" fill="#e06060"/><ellipse cx="617" cy="165.5" rx="5" ry="1.5" fill="#e05050"/><ellipse cx="448" cy="166" rx="5" ry="1.5" fill="#e0a040"/><ellipse cx="500" cy="88" rx="2" ry="2" fill="#50a0f0"/><ellipse cx="508" cy="90" rx="2" ry="2" fill="#a050e0"/><ellipse cx="486" cy="69.5" rx="3" ry="1.3" fill="#e08040"/><ellipse cx="531" cy="69.5" rx="4" ry="1.3" fill="#e05040"/><ellipse cx="548" cy="69.5" rx="3" ry="1.3" fill="#e0a040"/><ellipse cx="588" cy="69.5" rx="3" ry="1.3" fill="#e07040"/><ellipse cx="612" cy="69.5" rx="3" ry="1.3" fill="#e06040"/><ellipse cx="463" cy="69.5" rx="3" ry="1.3" fill="#d0c040"/><ellipse cx="470" cy="86" rx="3" ry="3" fill="#8050e0"/><ellipse cx="555" cy="86" rx="3" ry="3" fill="#50a0f0"/></g><rect x="420" y="69" width="206" height="98" fill="url(#sp2)" filter="url(#pbd)"/></g><g filter="url(#pb)"><rect x="452.5" y="89" width="138" height="56.5" fill="#a8a8a8"/><rect x="454" y="90.5" width="135" height="53.5" fill="#5c5c5c"/></g><g filter="url(#pb1)" fill="#5c5c5c"><rect x="456" y="93.7" width="7.8" height="25.4" rx="2" fill="#707070"/><rect x="455.8" y="120.6" width="7.8" height="20.8" rx="2" fill="#707070"/><rect x="466.3" y="94.4" width="8.6" height="18.8" rx="2" fill="#646464"/><rect x="464.8" y="119.6" width="8.6" height="23.6" rx="2" fill="#686868"/><rect x="477.4" y="93.2" width="8.5" height="21.6" rx="2" fill="#6c6c6c"/><rect x="477.9" y="120.5" width="8.5" height="20.3" rx="2" fill="#686868"/><rect x="488.4" y="92.7" width="6.5" height="18.2" rx="2" fill="#707070"/><rect x="487.7" y="119.8" width="6.5" height="20.8" rx="2" fill="#6c6c6c"/><rect x="497.3" y="93.5" width="8.7" height="23.3" rx="2" fill="#707070"/><rect x="498" y="119.2" width="8.7" height="22.2" rx="2" fill="#686868"/><rect x="508.5" y="92.9" width="9" height="19.8" rx="2" fill="#646464"/><rect x="506.7" y="119.7" width="9" height="20.4" rx="2" fill="#686868"/><rect x="520.1" y="93.2" width="9.7" height="25.7" rx="2" fill="#686868"/><rect x="518.9" y="120.8" width="9.7" height="20.2" rx="2" fill="#707070"/><rect x="532.3" y="93.2" width="10.4" height="18.6" rx="2" fill="#6c6c6c"/><rect x="533.4" y="118.8" width="10.4" height="20.3" rx="2" fill="#646464"/><rect x="545.2" y="93.2" width="5.6" height="25.4" rx="2" fill="#6c6c6c"/><rect x="544.2" y="118.3" width="5.6" height="20.2" rx="2" fill="#707070"/><rect x="553.3" y="93.7" width="6.4" height="21.6" rx="2" fill="#6c6c6c"/><rect x="555.2" y="120.3" width="6.4" height="21.7" rx="2" fill="#707070"/><rect x="562.2" y="93.3" width="6.1" height="19.7" rx="2" fill="#646464"/><rect x="563.6" y="120.9" width="6.1" height="22.4" rx="2" fill="#686868"/><rect x="570.8" y="93.2" width="6.6" height="24.8" rx="2" fill="#686868"/><rect x="568.9" y="118.4" width="6.6" height="21.8" rx="2" fill="#686868"/><rect x="579.8" y="93" width="9.4" height="20.4" rx="2" fill="#686868"/><rect x="578.1" y="118.6" width="9.4" height="22.5" rx="2" fill="#686868"/></g><rect x="380" y="47" width="263" height="138" fill="url(#vig)"/><g filter="url(#pb)"><rect x="380" y="185" width="263" height="5.5" fill="url(#bandg)"/><rect x="380" y="190.5" width="263" height="16" fill="url(#botg)"/></g><g filter="url(#pb2)"><rect x="478" y="199" width="40" height="9" fill="#161616"/><ellipse cx="540" cy="203" rx="22" ry="7" fill="#6a6a6a"/></g><rect x="590" y="140" width="53" height="66" fill="url(#brc)"/><rect x="380" y="140" width="50" height="66" fill="url(#blc)"/><rect x="380" y="47" width="40" height="40" fill="url(#tlc)"/></g>
<rect x="378" y="207.8" width="272" height="1.6" fill="#f3f3f3"/>
<rect x="277" y="28" width="10.5" height="19.6" fill="#ee3b30" stroke="#555" stroke-width="0.8"/><rect x="277" y="47.6" width="10.5" height="18.8" fill="#e66a48" stroke="#555" stroke-width="0.8"/><rect x="277" y="66.4" width="10.5" height="19.1" fill="#e8ab48" stroke="#555" stroke-width="0.8"/><rect x="277" y="85.5" width="10.5" height="18.8" fill="#ffff00" stroke="#555" stroke-width="0.8"/><rect x="277" y="104.3" width="10.5" height="19.2" fill="#d8ec3c" stroke="#555" stroke-width="0.8"/><rect x="277" y="123.5" width="10.5" height="17.9" fill="#aaf5a8" stroke="#555" stroke-width="0.8"/><rect x="277" y="141.4" width="10.5" height="16.2" fill="#88ee70" stroke="#555" stroke-width="0.8"/><rect x="277" y="157.6" width="10.5" height="18.6" fill="#22ee99" stroke="#555" stroke-width="0.8"/><rect x="277" y="176.2" width="10.5" height="16.5" fill="#40c4c0" stroke="#555" stroke-width="0.8"/><rect x="277" y="192.7" width="10.5" height="16.7" fill="#0060ff" stroke="#555" stroke-width="0.8"/><rect x="660" y="23.5" width="6" height="17.5" fill="#ee0000"/><rect x="660" y="41" width="6" height="17.5" fill="#ff8000"/><rect x="660" y="58.5" width="6" height="17.5" fill="#eeee00"/><rect x="660" y="76" width="6" height="17.6" fill="#44dd00"/><rect x="660" y="93.6" width="6" height="17.7" fill="#00ee22"/><rect x="660" y="111.3" width="6" height="17.7" fill="#00eeaa"/><rect x="660" y="129" width="6" height="17.5" fill="#00bbee"/><rect x="660" y="146.5" width="6" height="17.5" fill="#0022ee"/><rect x="660" y="164" width="6" height="17.8" fill="#4400ee"/><rect x="660" y="181.8" width="6" height="17.2" fill="#ee00ee"/><rect x="660" y="23.5" width="6" height="175.5" fill="none" stroke="#666" stroke-width="0.5"/><line x1="666" x2="669" y1="23.5" y2="23.5" stroke="#444" stroke-width="0.6"/><text x="671.8" y="26.1" font-size="7.6" fill="#444">1.80</text><line x1="666" x2="669" y1="41" y2="41" stroke="#444" stroke-width="0.6"/><text x="671.8" y="43.6" font-size="7.6" fill="#444">1.60</text><line x1="666" x2="669" y1="58.5" y2="58.5" stroke="#444" stroke-width="0.6"/><text x="671.8" y="61.1" font-size="7.6" fill="#444">1.40</text><line x1="666" x2="669" y1="76" y2="76" stroke="#444" stroke-width="0.6"/><text x="671.8" y="78.6" font-size="7.6" fill="#444">1.20</text><line x1="666" x2="669" y1="93.6" y2="93.6" stroke="#444" stroke-width="0.6"/><text x="671.8" y="96.2" font-size="7.6" fill="#444">1.00</text><line x1="666" x2="669" y1="111.3" y2="111.3" stroke="#444" stroke-width="0.6"/><text x="671.8" y="113.9" font-size="7.6" fill="#444">0.80</text><line x1="666" x2="669" y1="129" y2="129" stroke="#444" stroke-width="0.6"/><text x="671.8" y="131.6" font-size="7.6" fill="#444">0.60</text><line x1="666" x2="669" y1="146.5" y2="146.5" stroke="#444" stroke-width="0.6"/><text x="671.8" y="149.1" font-size="7.6" fill="#444">0.40</text><line x1="666" x2="669" y1="164" y2="164" stroke="#444" stroke-width="0.6"/><text x="671.8" y="166.6" font-size="7.6" fill="#444">0.20</text><line x1="666" x2="669" y1="181.8" y2="181.8" stroke="#444" stroke-width="0.6"/><text x="671.8" y="184.4" font-size="7.6" fill="#444">0.10</text><line x1="666" x2="669" y1="199" y2="199" stroke="#444" stroke-width="0.6"/><text x="671.8" y="201.6" font-size="7.6" fill="#444">0.01</text>
<text x="226.6" y="15.1" font-size="20.4">Vertical stress/Pa</text>
<text transform="translate(298.5,37.3) scale(1.11,1)" font-size="16.4">2.67<tspan font-weight="bold" dx="-0.6" dy="0.7">×</tspan><tspan dx="-0.3" dy="-0.7">10</tspan><tspan font-size="10" dx="-0.2" dy="-4.8">6</tspan></text><text transform="translate(295.4,52.1) scale(1.11,1)" font-size="16.4">-2.50<tspan font-weight="bold" dx="-0.6" dy="0.7">×</tspan><tspan dx="-0.3" dy="-0.7">10</tspan><tspan font-size="10" dx="-0.2" dy="-4.8">6</tspan></text><text transform="translate(295.4,72.3) scale(1.11,1)" font-size="16.4">-7.50<tspan font-weight="bold" dx="-0.6" dy="0.7">×</tspan><tspan dx="-0.3" dy="-0.7">10</tspan><tspan font-size="10" dx="-0.2" dy="-4.8">6</tspan></text><text transform="translate(295.4,89.1) scale(1.11,1)" font-size="16.4">-1.00<tspan font-weight="bold" dx="-0.6" dy="0.7">×</tspan><tspan dx="-0.3" dy="-0.7">10</tspan><tspan font-size="10" dx="-0.2" dy="-4.8">7</tspan></text><text transform="translate(295.4,107.7) scale(1.11,1)" font-size="16.4">-1.25<tspan font-weight="bold" dx="-0.6" dy="0.7">×</tspan><tspan dx="-0.3" dy="-0.7">10</tspan><tspan font-size="10" dx="-0.2" dy="-4.8">7</tspan></text><text transform="translate(295.4,128.5) scale(1.11,1)" font-size="16.4">-1.75<tspan font-weight="bold" dx="-0.6" dy="0.7">×</tspan><tspan dx="-0.3" dy="-0.7">10</tspan><tspan font-size="10" dx="-0.2" dy="-4.8">7</tspan></text><text transform="translate(295.4,144.9) scale(1.11,1)" font-size="16.4">-2.25<tspan font-weight="bold" dx="-0.6" dy="0.7">×</tspan><tspan dx="-0.3" dy="-0.7">10</tspan><tspan font-size="10" dx="-0.2" dy="-4.8">7</tspan></text><text transform="translate(295.4,161.7) scale(1.11,1)" font-size="16.4">-3.25<tspan font-weight="bold" dx="-0.6" dy="0.7">×</tspan><tspan dx="-0.3" dy="-0.7">10</tspan><tspan font-size="10" dx="-0.2" dy="-4.8">7</tspan></text><text transform="translate(295.4,175.5) scale(1.11,1)" font-size="16.4">-4.25<tspan font-weight="bold" dx="-0.6" dy="0.7">×</tspan><tspan dx="-0.3" dy="-0.7">10</tspan><tspan font-size="10" dx="-0.2" dy="-4.8">7</tspan></text><text transform="translate(295.4,193.9) scale(1.11,1)" font-size="16.4">-4.75<tspan font-weight="bold" dx="-0.6" dy="0.7">×</tspan><tspan dx="-0.3" dy="-0.7">10</tspan><tspan font-size="10" dx="-0.2" dy="-4.8">7</tspan></text><text transform="translate(295.4,208.6) scale(1.11,1)" font-size="16.4">-4.97<tspan font-weight="bold" dx="-0.6" dy="0.7">×</tspan><tspan dx="-0.3" dy="-0.7">10</tspan><tspan font-size="10" dx="-0.2" dy="-4.8">7</tspan></text>
<text x="660.3" y="17.4" font-size="12" font-style="italic" fill="#444">ε</text><text x="666" y="18.8" font-size="5.5" fill="#999">t</text>
<text x="661" y="210.7" font-size="8" fill="#555">×10<tspan font-size="5.5" dy="-3">-3</tspan></text>
<text x="191" y="257.3" font-size="13.2">(a)</text>
<text x="554.6" y="257.3" font-size="13.2">(b)</text>
</svg>
</body></html>
